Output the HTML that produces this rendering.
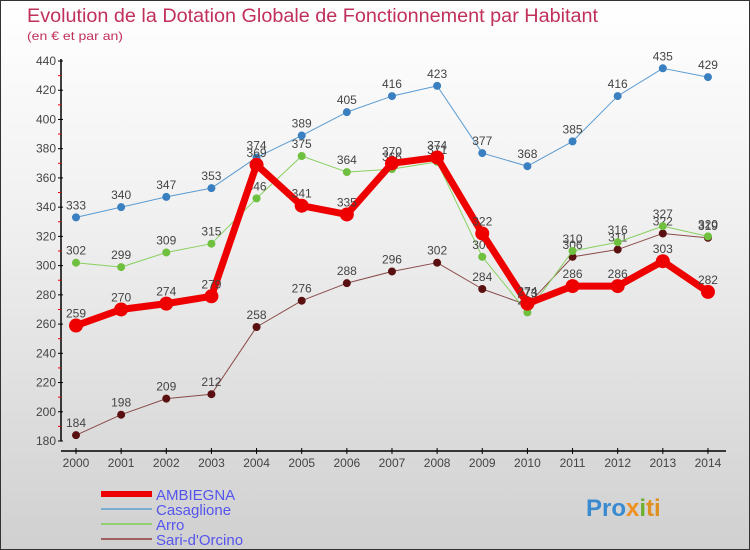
<!DOCTYPE html>
<html><head><meta charset="utf-8"><style>
body{margin:0}
#c{width:750px;height:550px;position:relative;box-sizing:border-box;border:1px solid #333;background:linear-gradient(#fff,#f0f0f0 40%,#d0d0d0);font-family:"Liberation Sans",sans-serif;overflow:hidden}
</style></head><body>
<div id="c">
<svg id="s" width="750" height="550" style="position:absolute;left:0;top:0">
<text x="26" y="21" font-size="19" fill="#c0305a" textLength="571" lengthAdjust="spacingAndGlyphs">Evolution de la Dotation Globale de Fonctionnement par Habitant</text>
<text x="26" y="39" font-size="12" fill="#c0305a" textLength="96" lengthAdjust="spacingAndGlyphs">(en € et par an)</text>
<g id="g"></g>
</svg>
</div>
<script>
const years=["2000","2001","2002","2003","2004","2005","2006","2007","2008","2009","2010","2011","2012","2013","2014"];
const ambiegna=[259,270,274,279,369,341,335,370,374,322,274,286,286,303,282];
const casaglione=[333,340,347,353,374,389,405,416,423,377,368,385,416,435,429];
const arro=[302,299,309,315,346,375,364,366,371,306,268,310,316,327,320];
const sari=[184,198,209,212,258,276,288,296,302,284,273,306,311,322,319];
const yTicks=[180,200,220,240,260,280,300,320,340,360,380,400,420,440];
const NS="http://www.w3.org/2000/svg";
const g=document.getElementById('g');
const X=i=>75+i*45.14;
const Y=v=>440-(v-180)*(380/260);
function el(t,a,p){const e=document.createElementNS(NS,t);for(const k in a)e.setAttribute(k,a[k]);(p||g).appendChild(e);return e;}
let ax=el('line',{x1:60,y1:58,x2:60,y2:440,stroke:'#000','stroke-width':1.5});


let ax2=el('line',{x1:60,y1:450,x2:725,y2:450,stroke:'#000','stroke-width':1.5});


yTicks.forEach(v=>{
 el('line',{x1:57,y1:Y(v),x2:62,y2:Y(v),stroke:'#000'});
 if(v<440)el('line',{x1:57,y1:Y(v+10),x2:60,y2:Y(v+10),stroke:'#e00'});
 const t=el('text',{x:55,y:Y(v)+4,'font-size':12,'text-anchor':'end',fill:'#444'});
 t.textContent=v;
 
 
});
years.forEach((y,i)=>{
 el('line',{x1:X(i),y1:447,x2:X(i),y2:453,stroke:'#000'});
 const t=el('text',{x:X(i),y:466,'font-size':12,'text-anchor':'middle',fill:'#444'});
 t.textContent=y;
 
 
});
function series(d,name,col,dot,w,r){
 const gg=el('g',{});
 
 
 const p=el('polyline',{points:d.map((v,i)=>X(i)+','+Y(v)).join(' '),fill:'none',stroke:col,'stroke-width':w,'stroke-linejoin':'round'},gg);
 
 
 d.forEach((v,i)=>{
  const c=el('circle',{cx:X(i),cy:Y(v),r:r,fill:dot},gg);
  
  
  const t=el('text',{x:X(i),y:Y(v)-8,'font-size':12,'text-anchor':'middle',fill:'#444'},gg);
  t.textContent=v;
  
  
 });
}
series(sari,'sari-dorcino','#8a4a4a','#5a1010',1,4);
series(arro,'arro','#88d060','#70c040',1,4);
series(casaglione,'casaglione','#5a9ad0','#3a80c0',1,4);
series(ambiegna,'ambiegna','#ee0000','#ee0000',7,7);
const leg=[['AMBIEGNA','#ee0000',6,493],['Casaglione','#7aaed0',2,508],['Arro','#90d070',2,523],["Sari-d'Orcino",'#a06060',2,538]];
leg.forEach(([n,c,w,y])=>{
 const gg=el('g',{});
 
 
 el('line',{x1:100,y1:y,x2:151,y2:y,stroke:c,'stroke-width':w},gg);
 const t=el('text',{x:155,y:y+6,'font-size':15,fill:'#5555ee'},gg);
 t.textContent=n;
});
const lg=el('text',{x:585,y:515,'font-size':24,'font-weight':'bold',fill:'#3a8ad0'});


lg.innerHTML='Pro<tspan fill="#f09020">x</tspan><tspan fill="#70b030">i</tspan><tspan fill="#e09020">ti</tspan>';
</script>
</body></html>
